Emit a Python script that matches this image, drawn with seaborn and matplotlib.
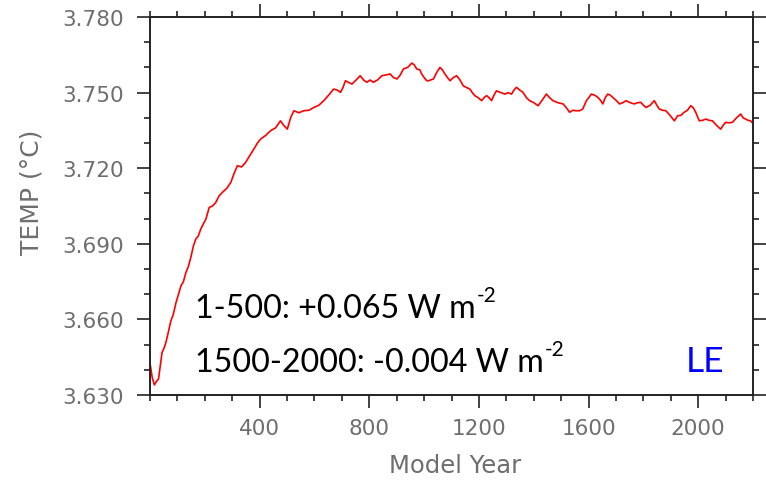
import matplotlib
matplotlib.use("Agg")
import matplotlib.pyplot as plt
import seaborn as sns
import pandas as pd
from matplotlib.ticker import MultipleLocator, FixedLocator

years = [1, 8, 16, 24, 31, 38, 44, 51, 58, 67, 76, 85, 95, 104, 113, 122, 131, 140, 149, 158,
         167, 176, 185, 195, 204, 216, 228, 240, 252, 264, 280, 295, 307, 319, 334, 349, 364, 379,
         392, 404, 422, 440, 458, 476, 488, 501, 513, 525, 543, 561, 580, 598, 616, 634, 652, 670,
         683, 695, 704, 713, 725, 737, 752, 767, 779, 791, 803, 815, 830, 846, 861, 876, 888, 901,
         913, 925, 940, 955, 964, 973, 985, 991, 1000, 1010, 1016, 1034, 1046, 1058, 1067, 1076,
         1085, 1095, 1107, 1119, 1131, 1143, 1155, 1167, 1176, 1185, 1197, 1210, 1219, 1228, 1237,
         1246, 1255, 1264, 1280, 1295, 1307, 1319, 1328, 1337, 1349, 1361, 1373, 1385, 1400, 1416,
         1431, 1446, 1458, 1470, 1488, 1507, 1519, 1531, 1543, 1555, 1567, 1579, 1592, 1601, 1610,
         1622, 1634, 1643, 1652, 1661, 1670, 1679, 1688, 1700, 1713, 1725, 1737, 1752, 1767, 1779,
         1791, 1800, 1810, 1825, 1840, 1849, 1858, 1870, 1882, 1897, 1913, 1925, 1937, 1949, 1961,
         1973, 1982, 1991, 2004, 2016, 2028, 2040, 2052, 2067, 2082, 2091, 2100, 2112, 2125, 2140,
         2155, 2164, 2173, 2182, 2191, 2198]
temp = [3.642, 3.637, 3.634, 3.6355, 3.6363, 3.642, 3.6469, 3.6485, 3.6508, 3.655, 3.6594, 3.662,
        3.6667, 3.670, 3.6733, 3.675, 3.6786, 3.681, 3.6846, 3.689, 3.6919, 3.693, 3.6958, 3.698,
        3.6998, 3.7044, 3.7050, 3.7064, 3.709, 3.7104, 3.712, 3.7144, 3.718, 3.7210, 3.7205, 3.7223,
        3.725, 3.7276, 3.730, 3.7316, 3.733, 3.7349, 3.736, 3.7388, 3.737, 3.7355, 3.740, 3.7428,
        3.742, 3.7428, 3.743, 3.7441, 3.745, 3.7468, 3.749, 3.7514, 3.751, 3.7501, 3.752, 3.7547,
        3.754, 3.7534, 3.755, 3.7567, 3.755, 3.7541, 3.755, 3.7541, 3.755, 3.7567, 3.757, 3.7574,
        3.756, 3.7554, 3.757, 3.7594, 3.760, 3.7617, 3.761, 3.7594, 3.759, 3.7574, 3.756, 3.7547,
        3.7547, 3.7554, 3.758, 3.760, 3.759, 3.7574, 3.756, 3.7547, 3.756, 3.7567, 3.755, 3.7527,
        3.752, 3.7514, 3.750, 3.7488, 3.748, 3.7468, 3.748, 3.7488, 3.748, 3.7468, 3.749, 3.7507,
        3.750, 3.7494, 3.750, 3.7494, 3.751, 3.7521, 3.751, 3.7501, 3.748, 3.7468, 3.746, 3.7448,
        3.747, 3.7494, 3.748, 3.7468, 3.746, 3.7455, 3.744, 3.7422, 3.743, 3.7428, 3.7428, 3.7435,
        3.7468, 3.748, 3.7494, 3.749, 3.7481, 3.747, 3.7455, 3.748, 3.7494, 3.749, 3.7481, 3.747,
        3.7455, 3.746, 3.7468, 3.746, 3.7455, 3.746, 3.7461, 3.745, 3.7441, 3.745, 3.7468, 3.745,
        3.7435, 3.743, 3.7428, 3.741, 3.7388, 3.7408, 3.741, 3.7422, 3.743, 3.7448, 3.744, 3.7422,
        3.7388, 3.739, 3.7395, 3.739, 3.7388, 3.737, 3.7355, 3.737, 3.7382, 3.738, 3.7382, 3.740,
        3.7415, 3.740, 3.7395, 3.739, 3.7388, 3.738]

x_ticks = [400, 800, 1200, 1600, 2000]
y_ticks = [3.630, 3.660, 3.690, 3.720, 3.750, 3.780]
y_ticklabels = ["3.630", "3.660", "3.690", "3.720", "3.750", "3.780"]
line1 = "1-500: +0.065 W m"
line2 = "1500-2000: -0.004 W m"
sup = "-2"
tag = "LE"

sns.set_style("ticks")
plt.rcParams["font.family"] = ["DejaVu Sans"]

W, H = 766, 481
fig = plt.figure(figsize=(W / 100, H / 100), dpi=100)
ax = fig.add_axes([150 / W, 1 - 396 / H, (753 - 150) / W, (396 - 18) / H])

df = pd.DataFrame({"year": years, "temp": temp})
sns.lineplot(data=df, x="year", y="temp", ax=ax, color="#ff0000", linewidth=1.2)

ax.set_xlim(0, 2200)
ax.set_ylim(3.630, 3.780)
ax.xaxis.set_major_locator(FixedLocator(x_ticks))
ax.xaxis.set_minor_locator(MultipleLocator(100))
ax.yaxis.set_major_locator(FixedLocator(y_ticks))
ax.yaxis.set_minor_locator(MultipleLocator(0.010))
ax.set_yticklabels(y_ticklabels)

grey = "#6e6e6e"
for s in ax.spines.values():
    s.set_visible(True)
    s.set_linewidth(1.4)
    s.set_color("#222222")
ax.tick_params(which="both", direction="out", top=True, right=True, color="#222222",
               labelsize=15.5, labelcolor=grey, width=1.2)
ax.tick_params(which="major", length=9.5)
ax.tick_params(which="minor", length=4.5)
ax.tick_params(axis="y", which="major", pad=9)
ax.tick_params(axis="x", which="major", pad=7)

ax.set_xlabel("Model Year", fontsize=17.5, color=grey)
ax.set_ylabel("TEMP (°C)", fontsize=18, color=grey)
ax.xaxis.set_label_coords(0.506, (396 - 466) / 378)
ax.xaxis.label.set_va("center")
ax.yaxis.set_label_coords((32 - 150) / 603, (396 - 192) / 378)
ax.yaxis.label.set_va("center")

fs = 23.2
t1 = fig.text(195 / W, 1 - 318 / H, line1, fontsize=fs, family="Lato", color="black", va="baseline")
t2 = fig.text(195 / W, 1 - 372 / H, line2, fontsize=fs, family="Lato", color="black", va="baseline")
for t in (t1, t2):
    ax.annotate(sup, xy=(1, 0), xycoords=t, xytext=(1, 15.5), textcoords="offset points",
                ha="left", va="baseline", fontsize=15, family="Lato", color="black",
                annotation_clip=False)
fig.text(686 / W, 1 - 372 / H, tag, fontsize=25.5, family="Lato", color="#0000ff", va="baseline")

fig.savefig("out.png", dpi=100)
